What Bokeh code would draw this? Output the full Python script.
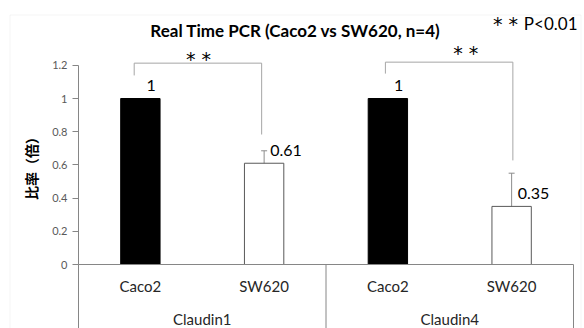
from bokeh.plotting import figure
from bokeh.models import (Range1d, LinearAxis, FixedTicker, ColumnDataSource,
                          Whisker, TeeHead, BoxAnnotation, Label)
from bokeh.embed import file_html
from bokeh.resources import INLINE
from bokeh.core.properties import value

# ---------------- data ----------------
groups = ["Claudin1", "Claudin4"]
cells = ["Caco2", "SW620", "Caco2", "SW620"]
ratios = [1.0, 0.61, 1.0, 0.35]
errors = [0.0, 0.075, 0.0, 0.2]
value_labels = ["1", "0.61", "1", "0.35"]
y_ticks = [0, 0.2, 0.4, 0.6, 0.8, 1.0, 1.2]
y_tick_labels = ["0", "0.2", "0.4", "0.6", "0.8", "1", "1.2"]
sig_labels = ["* *", "* *"]
bracket_left = [0.45, 2.48]
bracket_right = [1.48, 3.51]
bracket_top = [1.213, 1.219]
bracket_left_end = [1.139, 1.15]
bracket_right_end = [0.783, 0.627]
sig_x = [0.97, 3.13]
sig_y = [1.235, 1.277]
title_text = "Real Time PCR (Caco2 vs SW620, n=4)"
y_label = "比率（倍）"
p_stars = "* *"
p_note = "P<0.01"

FONT = "Lato"
STAR_FONT = "DejaVu Sans"

# ---------------- geometry ----------------
W, H = 584, 328
x0_px, x_unit = 78.0, 123.75      # category axis origin & px per category
y0_px, y_unit = 264.0, 166.0      # y=0 position from top & px per unit
x_start, x_end = -x0_px / x_unit, (W - x0_px) / x_unit
y_start, y_end = -(H - y0_px) / y_unit, y0_px / y_unit


def dx(px):
    return (px - x0_px) / x_unit


def dy(px):
    return (y0_px - px) / y_unit


p = figure(width=W, height=H, x_range=Range1d(x_start, x_end),
           y_range=Range1d(y_start, y_end), output_backend="svg",
           toolbar_location=None, min_border=0, x_axis_type=None,
           y_axis_type=None)
p.outline_line_color = None
p.background_fill_color = "white"
p.border_fill_color = "white"

# outer chart-area border
p.add_layout(BoxAnnotation(left=dx(9.5), right=dx(580.5), top=dy(14.5),
                           bottom=y_start - 1, fill_color=None,
                           line_color="#d9d9d9", line_width=1))

# y axis
yaxis = LinearAxis(fixed_location=0, bounds=(0, 1.2),
                   ticker=FixedTicker(ticks=y_ticks),
                   major_label_overrides=dict(zip(y_ticks, y_tick_labels)),
                   axis_label=y_label, axis_label_standoff=8,
                   axis_label_text_font="Noto Sans CJK JP",
                   axis_label_text_font_style="bold",
                   axis_label_text_font_size="14px", axis_label_text_color="#000000",
                   major_label_text_font=FONT, major_label_text_font_size="11px",
                   major_label_text_color="#595959", major_label_standoff=5,
                   axis_line_color="#868686", major_tick_line_color="#868686",
                   major_tick_out=6, major_tick_in=0, minor_tick_line_color=None)
p.add_layout(yaxis, "left")

# category axis (cells)
n = len(cells)
xs = [i + 0.5 for i in range(n)]
xaxis = LinearAxis(fixed_location=0, bounds=(0, n),
                   ticker=FixedTicker(ticks=xs),
                   major_label_overrides=dict(zip(xs, cells)),
                   major_label_text_font=FONT, major_label_text_font_size="15px",
                   major_label_text_color="#262626", major_label_standoff=6,
                   axis_line_color="#868686", major_tick_line_color=None,
                   minor_tick_line_color=None)
p.add_layout(xaxis, "below")

# group axis
per_group = n // len(groups)
gx = [g * per_group + per_group / 2 for g in range(len(groups))]
gaxis = LinearAxis(fixed_location=0, ticker=FixedTicker(ticks=gx),
                   major_label_overrides=dict(zip(gx, groups)),
                   major_label_text_font=FONT, major_label_text_font_size="15px",
                   major_label_text_color="#262626", major_label_standoff=39,
                   axis_line_color=None, major_tick_line_color=None,
                   minor_tick_line_color=None)
p.add_layout(gaxis, "below")

# group separators
seps = [g * per_group for g in range(len(groups) + 1)]
p.segment(x0=seps, y0=[0] * len(seps), x1=seps, y1=[y_start] * len(seps),
          line_color="#868686", line_width=1)

# bars
is_ref = [c == "Caco2" for c in cells]
src = ColumnDataSource(dict(
    x=xs, top=ratios, label=value_labels,
    upper=[r + e for r, e in zip(ratios, errors)],
    lower=[r - e for r, e in zip(ratios, errors)],
    fill=["#000000" if r else "#ffffff" for r in is_ref],
    line=["#000000" if r else "#595959" for r in is_ref],
))
p.vbar(x="x", top="top", width=0.318, bottom=0, fill_color="fill",
       line_color="line", line_width=1, source=src)

# error bars
p.add_layout(Whisker(base="x", upper="upper", lower="lower", source=src,
                     line_color="#8c8c8c", line_width=1,
                     upper_head=TeeHead(size=6, line_color="#8c8c8c", line_width=1),
                     lower_head=TeeHead(size=6, line_color="#8c8c8c", line_width=1)))

# value labels
p.text(x="x", y="top", text="label", source=src, x_offset=6, y_offset=-13,
       text_align="left", text_baseline="middle", text_font=value(FONT),
       text_font_size="16px", text_color="#000000")

# significance brackets
bx = [[l, l, r, r] for l, r in zip(bracket_left, bracket_right)]
by = [[le, t, t, re] for le, t, re in zip(bracket_left_end, bracket_top, bracket_right_end)]
p.multi_line(xs=bx, ys=by, line_color="#a6a6a6", line_width=1)
p.text(x=sig_x, y=sig_y, text=sig_labels, text_align="center",
       text_baseline="alphabetic", text_font=value(STAR_FONT),
       text_font_size="19px", text_color="#000000")

# title and note
p.add_layout(Label(x=dx(295), y=dy(30), text=title_text,
                   text_align="center", text_baseline="alphabetic", text_font=FONT,
                   text_font_style="bold", text_font_size="17px",
                   text_color="#000000"))
p.add_layout(Label(x=dx(577), y=dy(23), text=p_note,
                   text_align="right", text_baseline="alphabetic", text_font=FONT,
                   text_font_size="17px", text_color="#000000"))
p.add_layout(Label(x=dx(505), y=dy(23), text=p_stars,
                   text_align="center", text_baseline="alphabetic",
                   text_font=STAR_FONT, text_font_size="19px",
                   text_color="#000000"))

open("out.html", "w").write(file_html(p, INLINE))
